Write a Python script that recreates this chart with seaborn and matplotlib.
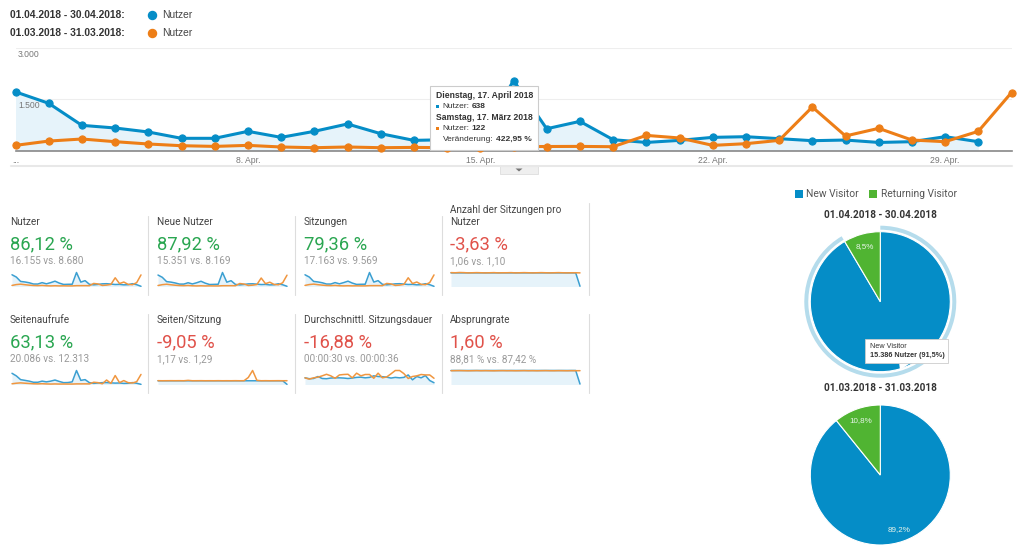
# Analytics dashboard: Nutzer April vs. Maerz 2018

import matplotlib
matplotlib.use("Agg")
import matplotlib.pyplot as plt
import seaborn as sns
from matplotlib.patches import Rectangle, Polygon

# main chart
days = list(range(31))
users_apr = [1710, 1378, 737, 660, 544, 360, 360, 563, 388, 563, 777, 495, 300, 320, 330, 2040, 638, 853, 320, 240,
             300, 388, 407, 350, 291, 310, 240, 262, 407, 262]
users_mar = [155, 280, 340, 262, 195, 145, 125, 155, 108, 87, 108, 87, 96, 87, 87, 120, 122, 125, 116, 445,
             370, 155, 204, 300, 1270, 428, 650, 310, 262, 563, 1690]
date_apr = "01.04.2018 - 30.04.2018"
date_mar = "01.03.2018 - 31.03.2018"
xtick_pos = [0, 7, 14, 21, 28]
xtick_labels = ["...", "8. Apr.", "15. Apr.", "22. Apr.", "29. Apr."]
ytick_pos = [1500, 3000]
ytick_labels = ["1.500", "3.000"]

# kpi cards
card_titles = ["Nutzer", "Neue Nutzer", "Sitzungen", "Anzahl der Sitzungen pro\nNutzer",
               "Seitenaufrufe", "Seiten/Sitzung", "Durchschnittl. Sitzungsdauer", "Absprungrate"]
card_changes = ["86,12 %", "87,92 %", "79,36 %", "-3,63 %", "63,13 %", "-9,05 %", "-16,88 %", "1,60 %"]
card_good = [True, True, True, False, True, False, False, False]
card_subs = ["16.155 vs. 8.680", "15.351 vs. 8.169", "17.163 vs. 9.569", "1,06 vs. 1,10",
             "20.086 vs. 12.313", "1,17 vs. 1,29", "00:00:30 vs. 00:00:36", "88,81 % vs. 87,42 %"]

new_users_apr = [1620, 1300, 690, 620, 500, 340, 340, 530, 360, 530, 740, 470, 280, 300, 320, 1980, 610, 820, 300, 225,
                 285, 370, 385, 330, 275, 295, 225, 245, 385, 245, 30]
new_users_mar = [140, 260, 320, 245, 180, 135, 115, 145, 100, 80, 100, 80, 90, 80, 80, 110, 112, 115, 108, 420,
                 350, 145, 190, 280, 1200, 400, 610, 290, 245, 530, 1600]
sessions_apr = [1800, 1450, 780, 700, 575, 380, 380, 600, 410, 600, 820, 525, 320, 340, 350, 2150, 680, 900, 340, 255,
                320, 410, 430, 370, 310, 330, 255, 280, 430, 280, 30]
sessions_mar = [170, 300, 365, 280, 210, 155, 135, 165, 115, 95, 115, 95, 105, 95, 95, 130, 132, 135, 125, 470,
                395, 165, 215, 320, 1340, 455, 690, 330, 280, 600, 1780]
per_user_apr = [1.06] * 30 + [0.02]
per_user_mar = [1.08, 1.07, 1.09, 1.08, 1.06, 1.07, 1.08, 1.07, 1.06, 1.07, 1.08, 1.06, 1.07, 1.07, 1.08, 1.06,
                1.07, 1.08, 1.07, 1.06, 1.07, 1.08, 1.07, 1.06, 1.07, 1.08, 1.07, 1.06, 1.07, 1.07, 1.06]
views_apr = [2000, 1540, 870, 740, 600, 400, 400, 600, 470, 600, 800, 540, 330, 350, 470, 2500, 740, 870, 330, 200,
             270, 330, 340, 290, 250, 270, 200, 220, 340, 220, 30]
views_mar = [130, 230, 290, 230, 180, 130, 110, 140, 100, 80, 100, 80, 90, 80, 80, 110, 110, 115, 105, 400,
             330, 130, 800, 200, 1600, 330, 700, 330, 270, 500, 1800]
pages_apr = [1.17] * 30 + [0.05]
pages_mar = [1.2, 1.18, 1.19, 1.2, 1.19, 1.2, 1.18, 1.3, 1.18, 1.19, 1.2, 1.18, 1.19, 1.18, 1.2, 1.18,
             1.19, 1.18, 1.2, 1.18, 1.19, 2.2, 4.4, 1.3, 1.18, 1.2, 1.18, 1.19, 1.2, 1.18, 1.19]
duration_apr = [30, 26, 27, 36, 27, 26, 29, 30, 30, 29, 27, 29, 32, 33, 30, 32,
                39, 36, 35, 33, 29, 32, 30, 32, 43, 21, 36, 30, 40, 18, 8]
duration_mar = [30, 24, 30, 33, 39, 46, 39, 28, 43, 45, 46, 30, 51, 39, 45, 45,
                28, 51, 30, 34, 48, 63, 63, 49, 27, 36, 39, 45, 43, 43, 28]
bounce_apr = [88.8] * 30 + [3]
bounce_mar = [87.4, 87.9, 88.2, 87.6, 86.9, 87.5, 88.1, 87.2, 87.8, 87.3, 86.8, 87.6, 88.0, 87.4, 87.7, 87.1,
              87.5, 88.1, 87.3, 87.7, 87.0, 87.6, 88.0, 87.4, 87.2, 87.8, 87.5, 87.1, 87.7, 87.4, 87.6]
spark_blue = [new_users_apr, sessions_apr, per_user_apr, views_apr, pages_apr, duration_apr, bounce_apr]
spark_orange = [new_users_mar, sessions_mar, per_user_mar, views_mar, pages_mar, duration_mar, bounce_mar]

# pies
pie_labels = ["New Visitor", "Returning Visitor"]
pie_apr = [91.5, 8.5]
pie_mar = [89.2, 10.8]

BLUE = "#058dc7"
ORANGE = "#ed7e17"
GREEN = "#50b432"
FILL = "#e6f3fa"
W, H = 1024, 556

sns.set_theme(style="white")
plt.rcParams["font.family"] = ["Liberation Sans", "DejaVu Sans"]

fig = plt.figure(figsize=(W / 100, H / 100), dpi=100, facecolor="white")


def px_axes(x0, y0, x1, y1):
    return fig.add_axes([x0 / W, 1 - y1 / H, (x1 - x0) / W, (y1 - y0) / H])


# main line chart
ax = px_axes(15.5, 47.5, 1011.5, 150.7)
ax.fill_between(days[:len(users_apr)], users_apr, color=FILL, lw=0)
sns.lineplot(x=days[:len(users_apr)], y=users_apr, ax=ax, color=BLUE, lw=2.2, marker="o", ms=5.2, mec=BLUE,
             clip_on=False, zorder=3)
sns.lineplot(x=days, y=users_mar, ax=ax, color=ORANGE, lw=2.2, marker="o", ms=5.2, mec=ORANGE, clip_on=False, zorder=4)
ax.set_xlim(0, 30)
ax.set_ylim(0, 3000)
ax.set_xticks(xtick_pos, xtick_labels, fontsize=6.2, color="#777777")
ax.set_yticks(ytick_pos, [])
ax.tick_params(length=0, pad=3.8)
ax.grid(axis="y", color="#eeeeee", lw=0.8)
ax.set_axisbelow(True)
sns.despine(ax=ax, left=True, right=True, top=True)
ax.spines["bottom"].set_color("#888888")
ax.spines["bottom"].set_linewidth(1.2)
for pos, lab in zip(ytick_pos, ytick_labels):
    ax.annotate(lab, (0, pos), xytext=(1.8, -1.5), textcoords="offset points", va="top", fontsize=6.2, color="#777777")

# sparklines
nutzer_spark_apr = users_apr + [30]
all_blue = [nutzer_spark_apr] + spark_blue
all_orange = [users_mar] + spark_orange
card_x = [10, 157, 304, 450]
spark_x = [(12, 141), (158, 287), (305, 434), (451, 580)]
for i in range(8):
    row, col = i // 4, i % 4
    y0, y1 = (272.5, 286.5) if row == 0 else (370.5, 384.5)
    sp = px_axes(spark_x[col][0], y0, spark_x[col][1], y1)
    sp.fill_between(days, all_blue[i], color=FILL, lw=0)
    sns.lineplot(x=days, y=all_blue[i], ax=sp, color="#3b9fd1", lw=1.1, clip_on=False)
    sns.lineplot(x=days, y=all_orange[i], ax=sp, color="#f0963f", lw=1.1, clip_on=False)
    sp.set_xlim(0, 30)
    sp.set_ylim(0, max(max(all_blue[i]), max(all_orange[i])))
    sp.set_xticks([])
    sp.set_yticks([])
    sp.set_facecolor("none")
    sns.despine(ax=sp, left=True, bottom=True)


# pies
def draw_pie(cy, values, halo):
    pa = px_axes(880.3 - 78, cy - 78, 880.3 + 78, cy + 78)
    wedges, texts, autotexts = pa.pie(values, colors=[BLUE, GREEN], startangle=90, counterclock=False, radius=1,
                                      wedgeprops={"edgecolor": "white", "linewidth": 0.8},
                                      autopct=lambda p: f"{p:.1f}%".replace(".", ","), pctdistance=0.82,
                                      textprops={"color": "#e8f4ea", "fontsize": 5.8})
    if halo:
        # hover state: the blue label sits under the tooltip
        autotexts[0].remove()
        pa.pie(values, colors=["#b5dcec", "none"], startangle=90, counterclock=False, radius=76 / 70,
               wedgeprops={"width": 4 / 70, "linewidth": 0})
    pa.set_xlim(-78 / 70, 78 / 70)
    pa.set_ylim(-78 / 70, 78 / 70)
    pa.set_aspect("equal")


draw_pie(301.7, pie_apr, True)
draw_pie(475, pie_mar, False)

# pixel overlay for page text and boxes
ov = fig.add_axes([0, 0, 1, 1], zorder=10)
ov.set_xlim(0, W)
ov.set_ylim(H, 0)
ov.axis("off")
ov.patch.set_alpha(0)

# top legend
for yy, date, col in [(15, date_apr, BLUE), (33, date_mar, ORANGE)]:
    ov.text(10, yy, date + ":", fontsize=7.4, fontweight="bold", color="#333333", va="center")
    ov.plot([152], [yy], "o", ms=5.8, color=col, mec=col)
    ov.text(162, yy, "Nutzer", fontsize=7.4, color="#444444", va="center")

# scroll rail and handle under the chart
ov.plot([11, 1012], [166, 166], color="#e8e8e8", lw=1.5)
ov.add_patch(Rectangle((500, 166), 38, 7.5, fc="#efefef", ec="#dddddd", lw=0.6))
ov.add_patch(Polygon([(515.5, 168.5), (522.5, 168.5), (519, 171.5)], fc="#777777", lw=0))

# line chart tooltip
ov.add_patch(Rectangle((430, 86), 108, 63.5, fc="white", ec="#cccccc", lw=0.8))
ov.text(436, 95, "Dienstag, 17. April 2018", fontsize=6.2, fontweight="bold", color="#333333", va="center")
ov.add_patch(Rectangle((436, 104.5), 3.2, 3.2, fc=BLUE, lw=0))
ov.text(442.5, 106, "Nutzer:", fontsize=6.0, color="#333333", va="center")
ov.text(471.5, 106, "638", fontsize=6.0, fontweight="bold", color="#333333", va="center")
ov.text(436, 117.5, "Samstag, 17. März 2018", fontsize=6.2, fontweight="bold", color="#333333", va="center")
ov.add_patch(Rectangle((436, 127), 3.2, 3.2, fc=ORANGE, lw=0))
ov.text(442.5, 128.5, "Nutzer:", fontsize=6.0, color="#333333", va="center")
ov.text(471.5, 128.5, "122", fontsize=6.0, fontweight="bold", color="#333333", va="center")
ov.text(442.5, 139.5, "Veränderung:", fontsize=6.0, color="#333333", va="center")
ov.text(496, 139.5, "422,95 %", fontsize=6.0, fontweight="bold", color="#333333", va="center")

# card text and dividers
for i in range(8):
    row, col = i // 4, i % 4
    dy = 0 if row == 0 else 98
    x = card_x[col]
    title_y = 215.8 if "\n" in card_titles[i] else 222 + dy
    ov.text(x, title_y, card_titles[i], fontsize=7.2, family="Roboto", color="#444444", va="center", linespacing=1.3)
    ov.text(x, 244.5 + dy, card_changes[i], fontsize=13.2, family="Roboto",
            color="#2aa651" if card_good[i] else "#e0524a", va="center")
    ov.text(x, 261.5 + dy, card_subs[i], fontsize=7.2, family="Roboto", color="#999999", va="center")
for x in [148, 295, 442, 589]:
    ov.plot([x, x], [203 if x == 589 else 216, 294.5], color="#dddddd", lw=0.8)
    ov.plot([x, x], [314, 393], color="#dddddd", lw=0.8)

# pie legend and titles
ov.add_patch(Rectangle((794.5, 189.5), 8, 8, fc=BLUE, lw=0))
ov.text(806, 194, pie_labels[0], fontsize=7.4, family="Roboto", color="#555555", va="center")
ov.add_patch(Rectangle((869, 189.5), 8, 8, fc=GREEN, lw=0))
ov.text(881, 194, pie_labels[1], fontsize=7.4, family="Roboto", color="#555555", va="center")
ov.text(880.3, 215, date_apr, fontsize=7.2, fontweight="bold", family="Roboto", color="#333333", ha="center", va="center")
ov.text(880.3, 388, date_mar, fontsize=7.2, fontweight="bold", family="Roboto", color="#333333", ha="center", va="center")

# pie tooltip
ov.add_patch(Polygon([(899, 362), (912, 362), (900, 370)], fc="white", lw=0))
ov.add_patch(Rectangle((865, 338.5), 82.5, 24.5, fc="white", ec="#cccccc", lw=0.6))
ov.text(869.5, 346, "New Visitor", fontsize=5.2, color="#333333", va="center")
ov.text(869.5, 355.5, "15.386 Nutzer (91,5%)", fontsize=5.2, fontweight="bold", color="#333333", va="center")

fig.savefig("out.png", dpi=100)
